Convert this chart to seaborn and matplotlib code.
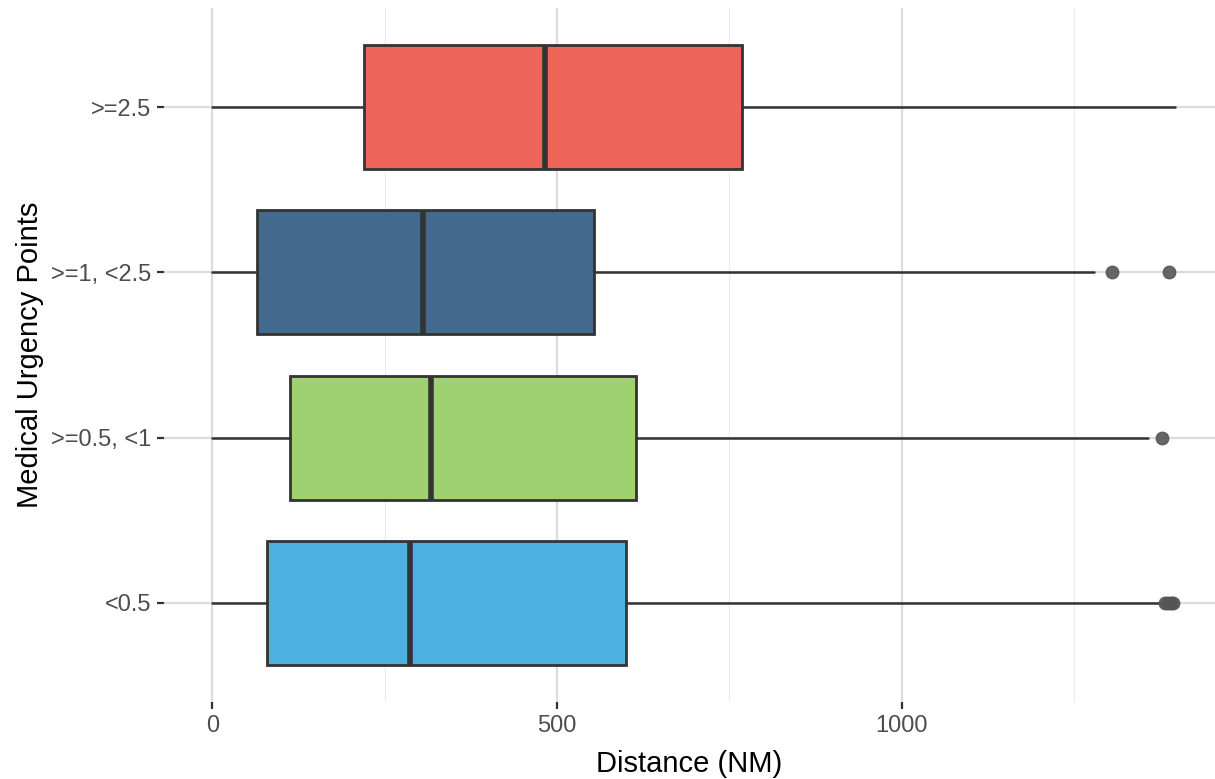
import matplotlib.pyplot as plt
import matplotlib.ticker as mticker
import seaborn as sns

# values
groups = ["<0.5", ">=0.5, <1", ">=1, <2.5", ">=2.5"]
colors = ["#4AB1E1", "#A0D170", "#44698F", "#F0655A"]
whisker_lo = [0, 0, 0, 0]
q1 = [80, 112, 65, 220]
median = [287, 317, 306, 483]
q3 = [600, 614, 554, 768]
whisker_hi = [1374, 1357, 1278, 1396]
outliers = [[1381, 1386, 1390, 1393], [1377], [1304, 1387], []]

sns.set_theme(style="whitegrid")
plt.rcParams["font.family"] = ["Liberation Sans", "DejaVu Sans"]

fig = plt.figure(figsize=(12.15, 7.79), dpi=100)
ax = fig.add_axes([164 / 1215, 1 - 702 / 779, 1 - 164 / 1215, 694 / 779])

stats = []
for i, g in enumerate(groups):
    stats.append(dict(label=g, whislo=whisker_lo[i], q1=q1[i], med=median[i],
                      q3=q3[i], whishi=whisker_hi[i], fliers=outliers[i]))

bp = ax.bxp(stats, positions=range(len(groups)), widths=0.75,
            orientation="horizontal", showcaps=False, patch_artist=True,
            boxprops=dict(edgecolor="#333333", linewidth=2),
            whiskerprops=dict(color="#333333", linewidth=1.8),
            medianprops=dict(color="#333333", linewidth=4),
            flierprops=dict(marker="o", markersize=9, markerfacecolor="#555555",
                            markeredgecolor="#555555", alpha=0.9))
for patch, c in zip(bp["boxes"], colors):
    patch.set_facecolor(c)
    patch.set_zorder(2)

ax.set_xlim(-70, 1454)
ax.set_ylim(-0.6, 3.6)
ax.set_yticks(range(len(groups)))
ax.set_yticklabels(groups)
ax.xaxis.set_major_locator(mticker.FixedLocator([0, 500, 1000]))
ax.xaxis.set_minor_locator(mticker.FixedLocator([250, 750, 1250]))

ax.set_facecolor("white")
ax.grid(True, which="major", color="#DCDCDC", linewidth=1.6)
ax.grid(True, which="minor", axis="x", color="#EBEBEB", linewidth=0.8)
ax.set_axisbelow(True)
for s in ax.spines.values():
    s.set_visible(False)

ax.tick_params(axis="both", which="major", length=5, width=1.6, color="#333333",
               labelsize=17, labelcolor="#4D4D4D", pad=4)
ax.tick_params(axis="x", which="minor", length=0)
ax.tick_params(bottom=True, left=True)

ax.set_xlabel("Distance (NM)", fontsize=21, color="black", labelpad=10)
ax.set_ylabel("Medical Urgency Points", fontsize=21, color="black", labelpad=5)

fig.savefig("out.png", dpi=100)
